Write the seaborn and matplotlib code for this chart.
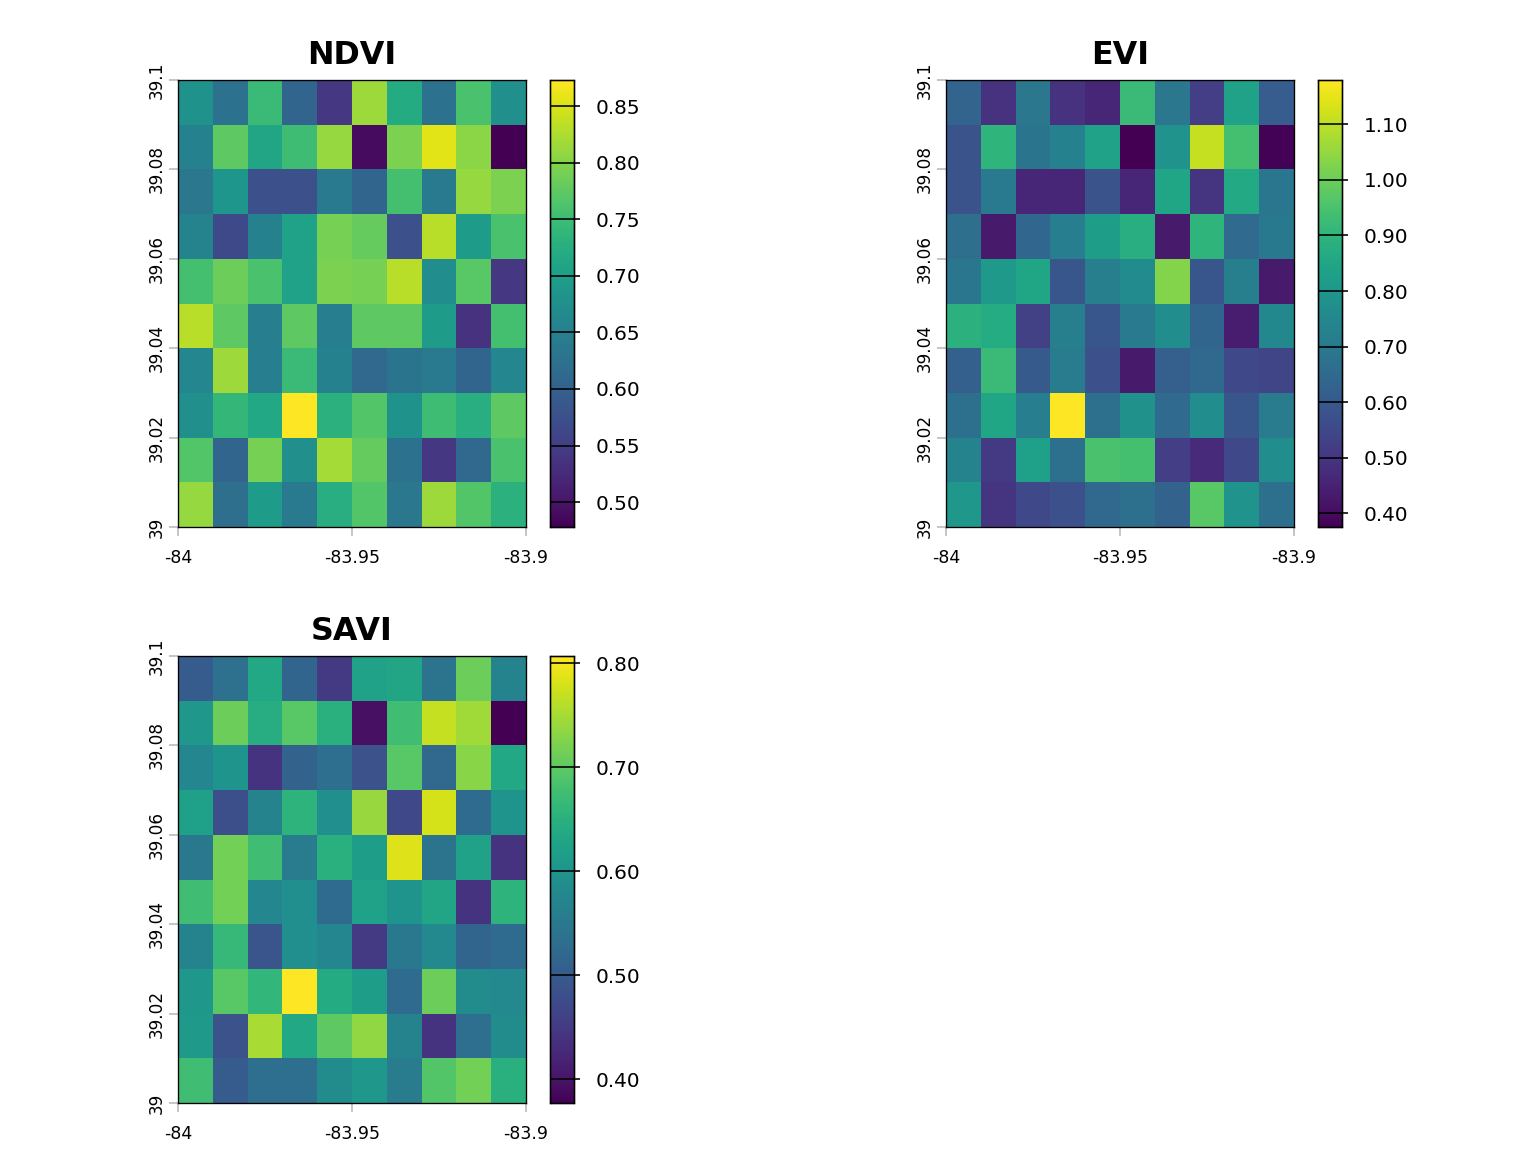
import numpy as np
import matplotlib
matplotlib.use("Agg")
import matplotlib.pyplot as plt
import seaborn as sns

ndvi = [
    [0.68, 0.625, 0.745, 0.605, 0.54, 0.815, 0.72, 0.625, 0.76, 0.675],
    [0.65, 0.775, 0.71, 0.75, 0.81, 0.49, 0.795, 0.855, 0.805, 0.478],
    [0.635, 0.685, 0.575, 0.575, 0.64, 0.605, 0.755, 0.64, 0.81, 0.795],
    [0.655, 0.565, 0.65, 0.705, 0.79, 0.78, 0.575, 0.83, 0.695, 0.76],
    [0.755, 0.785, 0.76, 0.705, 0.795, 0.79, 0.83, 0.67, 0.77, 0.54],
    [0.83, 0.775, 0.645, 0.775, 0.645, 0.775, 0.775, 0.695, 0.535, 0.755],
    [0.66, 0.815, 0.645, 0.745, 0.65, 0.61, 0.63, 0.64, 0.605, 0.66],
    [0.675, 0.74, 0.715, 0.873, 0.73, 0.765, 0.68, 0.75, 0.725, 0.775],
    [0.765, 0.605, 0.79, 0.675, 0.82, 0.78, 0.625, 0.54, 0.61, 0.76],
    [0.81, 0.62, 0.695, 0.64, 0.725, 0.765, 0.635, 0.815, 0.765, 0.73],
]
evi = [
    [0.63, 0.49, 0.695, 0.49, 0.46, 0.92, 0.695, 0.52, 0.84, 0.61],
    [0.58, 0.90, 0.685, 0.725, 0.84, 0.375, 0.79, 1.11, 0.94, 0.38],
    [0.58, 0.705, 0.46, 0.46, 0.58, 0.46, 0.85, 0.50, 0.86, 0.69],
    [0.665, 0.43, 0.64, 0.715, 0.82, 0.88, 0.43, 0.90, 0.65, 0.70],
    [0.69, 0.81, 0.85, 0.59, 0.72, 0.76, 1.03, 0.59, 0.72, 0.43],
    [0.89, 0.87, 0.53, 0.72, 0.59, 0.705, 0.77, 0.635, 0.44, 0.75],
    [0.62, 0.92, 0.60, 0.71, 0.57, 0.43, 0.615, 0.645, 0.55, 0.54],
    [0.67, 0.85, 0.715, 1.18, 0.67, 0.78, 0.65, 0.77, 0.59, 0.71],
    [0.735, 0.51, 0.83, 0.67, 0.95, 0.94, 0.52, 0.47, 0.55, 0.77],
    [0.80, 0.50, 0.55, 0.57, 0.645, 0.67, 0.625, 0.97, 0.79, 0.67],
]
savi = [
    [0.50, 0.535, 0.635, 0.515, 0.45, 0.625, 0.63, 0.54, 0.71, 0.57],
    [0.605, 0.71, 0.645, 0.695, 0.65, 0.395, 0.675, 0.77, 0.745, 0.377],
    [0.575, 0.60, 0.44, 0.51, 0.53, 0.485, 0.695, 0.52, 0.73, 0.635],
    [0.62, 0.48, 0.57, 0.655, 0.59, 0.74, 0.47, 0.78, 0.525, 0.60],
    [0.55, 0.715, 0.675, 0.555, 0.65, 0.615, 0.785, 0.54, 0.625, 0.44],
    [0.675, 0.715, 0.575, 0.59, 0.525, 0.625, 0.60, 0.63, 0.44, 0.655],
    [0.57, 0.665, 0.49, 0.59, 0.575, 0.45, 0.55, 0.58, 0.515, 0.525],
    [0.605, 0.695, 0.66, 0.807, 0.64, 0.615, 0.525, 0.71, 0.585, 0.58],
    [0.61, 0.485, 0.75, 0.635, 0.70, 0.735, 0.57, 0.44, 0.53, 0.585],
    [0.675, 0.50, 0.53, 0.53, 0.585, 0.605, 0.555, 0.69, 0.715, 0.65],
]

titles = ["NDVI", "EVI", "SAVI"]
ndvi_ticks = [0.50, 0.55, 0.60, 0.65, 0.70, 0.75, 0.80, 0.85]
evi_ticks = [0.40, 0.50, 0.60, 0.70, 0.80, 0.90, 1.00, 1.10]
savi_ticks = [0.40, 0.50, 0.60, 0.70, 0.80]

lon_range = [-84, -83.9]
lat_range = [39, 39.1]
lon_ticks = [-84, -83.95, -83.9]
lon_labels = ["-84", "-83.95", "-83.9"]
lat_ticks = [39, 39.02, 39.04, 39.06, 39.08, 39.1]
lat_labels = ["39", "39.02", "39.04", "39.06", "39.08", "39.1"]

W, H = 1536, 1152
# pixel boxes: left, top of each map
corners = [(178, 80), (946, 80), (178, 656)]
MAP_W, MAP_H = 348, 447
BAR_GAP, BAR_W = 24, 24
TICK_GRAY = "#b8b8b8"


def px_axes(fig, left, top, width, height):
    return fig.add_axes([left / W, 1 - (top + height) / H, width / W, height / H])


def draw_panel(fig, values, title, ticks, corner):
    left, top = corner
    ax = px_axes(fig, left, top, MAP_W, MAP_H)
    cax = px_axes(fig, left + MAP_W + BAR_GAP, top, BAR_W, MAP_H)

    data = np.array(values)
    sns.heatmap(data, ax=ax, cbar_ax=cax, cmap="viridis", square=False,
                xticklabels=False, yticklabels=False,
                vmin=data.min(), vmax=data.max(), cbar_kws={"ticks": ticks})

    nrow, ncol = data.shape
    xpos = [(v - lon_range[0]) / (lon_range[1] - lon_range[0]) * ncol for v in lon_ticks]
    ypos = [nrow - (v - lat_range[0]) / (lat_range[1] - lat_range[0]) * nrow for v in lat_ticks]
    ax.set_xticks(xpos)
    ax.set_xticklabels(lon_labels, fontsize=13)
    ax.set_yticks(ypos)
    ax.set_yticklabels(lat_labels, fontsize=12.7, rotation=90, va="center")
    ax.tick_params(axis="x", length=6.5, width=1.2, color=TICK_GRAY, pad=10,
                   bottom=True, labelcolor="black")
    ax.tick_params(axis="y", length=6.5, width=1.2, color=TICK_GRAY, pad=3,
                   left=True, labelcolor="black")
    ax.set_xlabel("")
    ax.set_ylabel("")
    for side in ax.spines.values():
        side.set_visible(True)
        side.set_color("black")
        side.set_linewidth(1.0)
    ax.set_title(title, fontsize=23.8, fontweight="bold", pad=12, color="black")

    # legend bar: ticks run through the bar and stick out on the right
    cax.hlines(ticks, 0, 1, transform=cax.get_yaxis_transform(), color="black", lw=1.2)
    cax.tick_params(axis="y", length=4.5, width=1.2, color="black", labelsize=15, pad=12,
                    right=True, left=False, labelcolor="black")
    cax.set_yticks(ticks)
    cax.set_yticklabels([f"{t:.2f}" for t in ticks])
    for side in cax.spines.values():
        side.set_visible(True)
        side.set_color("black")
        side.set_linewidth(1.0)


sns.set_style("white")
plt.rcParams["font.family"] = ["DejaVu Sans"]
fig = plt.figure(figsize=(W / 96, H / 96), dpi=96)
series = [ndvi, evi, savi]
tick_sets = [ndvi_ticks, evi_ticks, savi_ticks]
for values, title, ticks, corner in zip(series, titles, tick_sets, corners):
    draw_panel(fig, values, title, ticks, corner)

fig.savefig("out.png", dpi=96, facecolor="white")
plt.close(fig)
